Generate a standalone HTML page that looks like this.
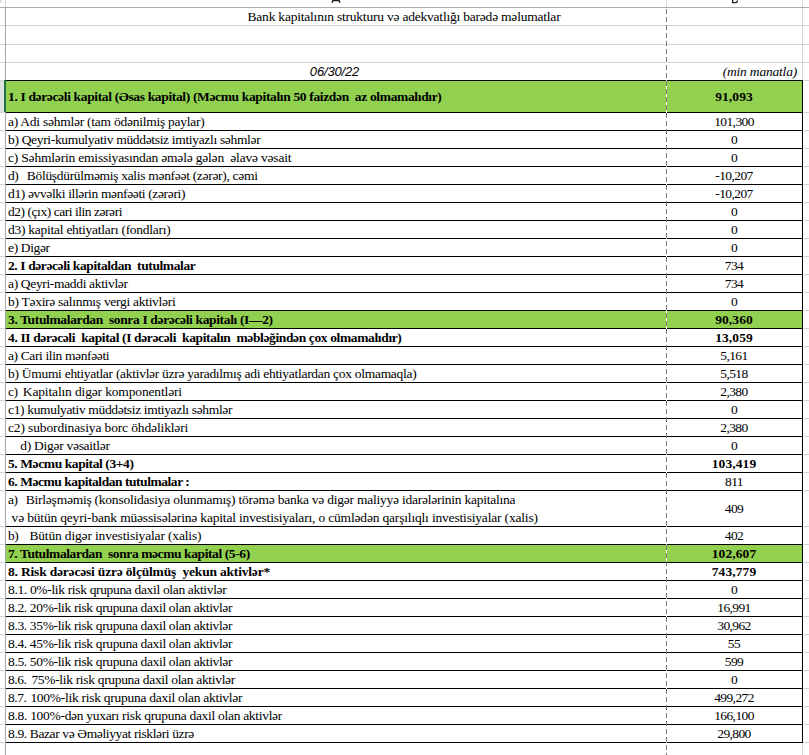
<!DOCTYPE html>
<html><head><meta charset="utf-8">
<style>
html,body{margin:0;padding:0;background:#fff;}
body{width:809px;height:755px;overflow:hidden;position:relative;font-family:"Liberation Serif",serif;font-size:13.5px;color:#000;}
.a{position:absolute;}
.t{position:absolute;white-space:pre;line-height:15px;height:15px;}
.hl{position:absolute;height:1px;}
.vl{position:absolute;width:1px;}
.g{background:#92d050;}
.bk{background:#000;}
.gr{background:#d4d4d4;}
.c{text-align:center;}
.ns{font-family:"Liberation Sans",sans-serif;}
</style></head><body>

<div class="hl" style="left:0;top:7px;width:809px;background:#ababab"></div>
<div class="hl gr" style="left:0;top:25px;width:809px"></div>
<div class="hl gr" style="left:0;top:44px;width:809px"></div>
<div class="hl gr" style="left:0;top:62px;width:809px"></div>
<div class="hl gr" style="left:0;top:80px;width:809px"></div>
<div class="vl" style="left:5px;top:0;height:7px;background:#dadada"></div>
<div class="vl" style="left:5px;top:8px;height:747px;background:#a6a6a6"></div>
<div class="vl" style="left:666px;top:0;height:7px;background:#dadada"></div>
<div class="vl" style="left:802px;top:0;height:7px;background:#dadada"></div>
<div class="vl gr" style="left:802px;top:8px;height:747px"></div>
<div class="a" style="left:0;top:0;width:2px;height:3px;background:#e6e6e6"></div>
<svg class="a" style="left:326px;top:0" width="20" height="7"><path d="M6.8 0 L6.2 2.8 M13.2 0 L13.8 2.8 M6.6 0.5 H13.4" stroke="#1e1e1e" stroke-width="1.3" fill="none"/></svg>
<svg class="a" style="left:725px;top:0" width="20" height="7"><path d="M7.6 0 V2.6 H10.6 Q12.4 2.6 12.4 0.6" stroke="#1e1e1e" stroke-width="1.3" fill="none"/></svg>
<div class="t c" id="title" style="left:6px;width:796px;top:9px;letter-spacing:-0.212px">Bank kapitalının strukturu və adekvatlığı barədə məlumatlar</div>
<div class="t c ns" style="left:4.5px;width:660px;top:64px;font-style:italic;font-size:13px;letter-spacing:-0.15px">06/30/22</div>
<div class="t" style="left:6px;width:791px;text-align:right;top:64px;font-style:italic;letter-spacing:-0.2px">(min manatla)</div>
<div class="a g" style="left:6px;top:80px;width:796px;height:32px"></div>
<div class="hl gr" style="left:803px;top:112px;width:6px"></div>
<div class="t" id="r80" style="left:8.00px;top:89px;letter-spacing:-0.350px;font-weight:bold;">1. I dərəcəli kapital (Əsas kapital) (Məcmu kapitalın 50 faizdən  az olmamalıdır)</div>
<div class="t c" style="left:666.5px;width:135px;top:89px;font-weight:bold;letter-spacing:0.1px;">91,093</div>
<div class="hl gr" style="left:803px;top:130px;width:6px"></div>
<div class="t" id="r112" style="left:8.00px;top:114px;letter-spacing:-0.250px;">a) Adi səhmlər (tam ödənilmiş paylar)</div>
<div class="t c" style="left:666.5px;width:135px;top:114px;letter-spacing:-0.6px;">101,300</div>
<div class="hl gr" style="left:803px;top:148px;width:6px"></div>
<div class="t" id="r130" style="left:8.00px;top:132px;letter-spacing:-0.326px;">b) Qeyri-kumulyativ müddətsiz imtiyazlı səhmlər</div>
<div class="t c" style="left:666.5px;width:135px;top:132px;letter-spacing:-0.6px;">0</div>
<div class="hl gr" style="left:803px;top:166px;width:6px"></div>
<div class="t" id="r148" style="left:8.00px;top:150px;letter-spacing:-0.192px;">c) Səhmlərin emissiyasından əmələ gələn  əlavə vəsait</div>
<div class="t c" style="left:666.5px;width:135px;top:150px;letter-spacing:-0.6px;">0</div>
<div class="hl gr" style="left:803px;top:184px;width:6px"></div>
<div class="t" style="left:8px;top:168px;letter-spacing:-0.45px;">d)</div><div class="t" id="r166" style="left:26.80px;top:168px;letter-spacing:-0.308px;">Bölüşdürülməmiş xalis mənfəət (zərər), cəmi</div>
<div class="t c" style="left:666.5px;width:135px;top:168px;letter-spacing:-0.6px;">-10,207</div>
<div class="hl gr" style="left:803px;top:202px;width:6px"></div>
<div class="t" id="r184" style="left:8.00px;top:186px;letter-spacing:-0.361px;">d1) əvvəlki illərin mənfəəti (zərəri)</div>
<div class="t c" style="left:666.5px;width:135px;top:186px;letter-spacing:-0.6px;">-10,207</div>
<div class="hl gr" style="left:803px;top:220px;width:6px"></div>
<div class="t" id="r202" style="left:8.00px;top:204px;letter-spacing:-0.460px;">d2) (çıx) cari ilin zərəri</div>
<div class="t c" style="left:666.5px;width:135px;top:204px;letter-spacing:-0.6px;">0</div>
<div class="hl gr" style="left:803px;top:238px;width:6px"></div>
<div class="t" id="r220" style="left:8.00px;top:222px;letter-spacing:-0.258px;">d3) kapital ehtiyatları (fondları)</div>
<div class="t c" style="left:666.5px;width:135px;top:222px;letter-spacing:-0.6px;">0</div>
<div class="hl gr" style="left:803px;top:256px;width:6px"></div>
<div class="t" id="r238" style="left:8.00px;top:240px;letter-spacing:-0.357px;">e) Digər</div>
<div class="t c" style="left:666.5px;width:135px;top:240px;letter-spacing:-0.6px;">0</div>
<div class="hl gr" style="left:803px;top:274px;width:6px"></div>
<div class="t" id="r256" style="left:8.00px;top:258px;letter-spacing:-0.400px;font-weight:bold;">2. I dərəcəli kapitaldan  tutulmalar</div>
<div class="t c" style="left:666.5px;width:135px;top:258px;letter-spacing:-0.6px;">734</div>
<div class="hl gr" style="left:803px;top:292px;width:6px"></div>
<div class="t" id="r274" style="left:8.00px;top:276px;letter-spacing:-0.341px;">a) Qeyri-maddi aktivlər</div>
<div class="t c" style="left:666.5px;width:135px;top:276px;letter-spacing:-0.6px;">734</div>
<div class="hl gr" style="left:803px;top:310px;width:6px"></div>
<div class="t" id="r292" style="left:8.00px;top:294px;letter-spacing:-0.288px;">b) Təxirə salınmış vergi aktivləri</div>
<div class="t c" style="left:666.5px;width:135px;top:294px;letter-spacing:-0.6px;">0</div>
<div class="a g" style="left:6px;top:310px;width:796px;height:18px"></div>
<div class="hl gr" style="left:803px;top:328px;width:6px"></div>
<div class="t" id="r310" style="left:8.00px;top:312px;letter-spacing:-0.354px;font-weight:bold;">3. Tutulmalardan  sonra I dərəcəli kapitalı (I—2)</div>
<div class="t c" style="left:666.5px;width:135px;top:312px;font-weight:bold;letter-spacing:0.1px;">90,360</div>
<div class="hl gr" style="left:803px;top:346px;width:6px"></div>
<div class="t" id="r328" style="left:8.00px;top:330px;letter-spacing:-0.373px;font-weight:bold;">4. II dərəcəli  kapital (I dərəcəli  kapitalın  məbləğindən çox olmamalıdır)</div>
<div class="t c" style="left:666.5px;width:135px;top:330px;font-weight:bold;letter-spacing:0.1px;">13,059</div>
<div class="hl gr" style="left:803px;top:364px;width:6px"></div>
<div class="t" id="r346" style="left:8.00px;top:348px;letter-spacing:-0.375px;">a) Cari ilin mənfəəti</div>
<div class="t c" style="left:666.5px;width:135px;top:348px;letter-spacing:-0.6px;">5,161</div>
<div class="hl gr" style="left:803px;top:382px;width:6px"></div>
<div class="t" id="r364" style="left:8.00px;top:366px;letter-spacing:-0.286px;">b) Ümumi ehtiyatlar (aktivlər üzrə yaradılmış adi ehtiyatlardan çox olmamaqla)</div>
<div class="t c" style="left:666.5px;width:135px;top:366px;letter-spacing:-0.6px;">5,518</div>
<div class="hl gr" style="left:803px;top:400px;width:6px"></div>
<div class="t" style="left:8px;top:384px;letter-spacing:-0.45px;">c)</div><div class="t" id="r382" style="left:22.80px;top:384px;letter-spacing:-0.148px;">Kapitalın digər komponentləri</div>
<div class="t c" style="left:666.5px;width:135px;top:384px;letter-spacing:-0.6px;">2,380</div>
<div class="hl gr" style="left:803px;top:418px;width:6px"></div>
<div class="t" id="r400" style="left:8.00px;top:402px;letter-spacing:-0.341px;">c1) kumulyativ müddətsiz imtiyazlı səhmlər</div>
<div class="t c" style="left:666.5px;width:135px;top:402px;letter-spacing:-0.6px;">0</div>
<div class="hl gr" style="left:803px;top:436px;width:6px"></div>
<div class="t" id="r418" style="left:8.00px;top:420px;letter-spacing:-0.136px;">c2) subordinasiya borc öhdəlikləri</div>
<div class="t c" style="left:666.5px;width:135px;top:420px;letter-spacing:-0.6px;">2,380</div>
<div class="hl gr" style="left:803px;top:454px;width:6px"></div>
<div class="t" id="r436" style="left:20.20px;top:438px;letter-spacing:-0.275px;">d) Digər vəsaitlər</div>
<div class="t c" style="left:666.5px;width:135px;top:438px;letter-spacing:-0.6px;">0</div>
<div class="hl gr" style="left:803px;top:472px;width:6px"></div>
<div class="t" id="r454" style="left:8.00px;top:456px;letter-spacing:-0.405px;font-weight:bold;">5. Məcmu kapital (3+4)</div>
<div class="t c" style="left:666.5px;width:135px;top:456px;font-weight:bold;letter-spacing:0.1px;">103,419</div>
<div class="hl gr" style="left:803px;top:490px;width:6px"></div>
<div class="t" id="r472" style="left:8.00px;top:474px;letter-spacing:-0.452px;font-weight:bold;">6. Məcmu kapitaldan tutulmalar :</div>
<div class="t c" style="left:666.5px;width:135px;top:474px;letter-spacing:-0.6px;">811</div>
<div class="hl gr" style="left:803px;top:526px;width:6px"></div>
<div class="t" style="left:8px;top:492px;letter-spacing:-0.45px;">a)</div><div class="t" id="r490a" style="left:25.80px;top:492px;letter-spacing:-0.236px;">Birləşməmiş (konsolidasiya olunmamış) törəmə banka və digər maliyyə idarələrinin kapitalına</div>
<div class="t" id="r490b" style="left:11.60px;top:510px;letter-spacing:-0.178px;">və bütün qeyri-bank müəssisələrinə kapital investisiyaları, o cümlədən qarşılıqlı investisiyalar (xalis)</div>
<div class="t c" style="left:666.5px;width:135px;top:501px;letter-spacing:-0.6px;">409</div>
<div class="hl gr" style="left:803px;top:544px;width:6px"></div>
<div class="t" style="left:8px;top:528px;letter-spacing:-0.45px;">b)</div><div class="t" id="r526" style="left:29.40px;top:528px;letter-spacing:-0.158px;">Bütün digər investisiyalar (xalis)</div>
<div class="t c" style="left:666.5px;width:135px;top:528px;letter-spacing:-0.6px;">402</div>
<div class="a g" style="left:6px;top:544px;width:796px;height:18px"></div>
<div class="hl gr" style="left:803px;top:562px;width:6px"></div>
<div class="t" id="r544" style="left:8.00px;top:546px;letter-spacing:-0.405px;font-weight:bold;">7. Tutulmalardan  sonra məcmu kapital (5-6)</div>
<div class="t c" style="left:666.5px;width:135px;top:546px;font-weight:bold;letter-spacing:0.1px;">102,607</div>
<div class="hl gr" style="left:803px;top:580px;width:6px"></div>
<div class="t" id="r562" style="left:8.00px;top:564px;letter-spacing:-0.185px;font-weight:bold;">8. Risk dərəcəsi üzrə ölçülmüş  yekun aktivlər*</div>
<div class="t c" style="left:666.5px;width:135px;top:564px;font-weight:bold;letter-spacing:0.1px;">743,779</div>
<div class="hl gr" style="left:803px;top:598px;width:6px"></div>
<div class="t" id="r580" style="left:8.00px;top:582px;letter-spacing:-0.337px;">8.1. 0%-lik risk qrupuna daxil olan aktivlər</div>
<div class="t c" style="left:666.5px;width:135px;top:582px;letter-spacing:-0.6px;">0</div>
<div class="hl gr" style="left:803px;top:616px;width:6px"></div>
<div class="t" id="r598" style="left:8.00px;top:600px;letter-spacing:-0.352px;">8.2. 20%-lik risk qrupuna daxil olan aktivlər</div>
<div class="t c" style="left:666.5px;width:135px;top:600px;letter-spacing:-0.6px;">16,991</div>
<div class="hl gr" style="left:803px;top:634px;width:6px"></div>
<div class="t" id="r616" style="left:8.00px;top:618px;letter-spacing:-0.352px;">8.3. 35%-lik risk qrupuna daxil olan aktivlər</div>
<div class="t c" style="left:666.5px;width:135px;top:618px;letter-spacing:-0.6px;">30,962</div>
<div class="hl gr" style="left:803px;top:652px;width:6px"></div>
<div class="t" id="r634" style="left:8.00px;top:636px;letter-spacing:-0.352px;">8.4. 45%-lik risk qrupuna daxil olan aktivlər</div>
<div class="t c" style="left:666.5px;width:135px;top:636px;letter-spacing:-0.6px;">55</div>
<div class="hl gr" style="left:803px;top:670px;width:6px"></div>
<div class="t" id="r652" style="left:8.00px;top:654px;letter-spacing:-0.352px;">8.5. 50%-lik risk qrupuna daxil olan aktivlər</div>
<div class="t c" style="left:666.5px;width:135px;top:654px;letter-spacing:-0.6px;">599</div>
<div class="hl gr" style="left:803px;top:688px;width:6px"></div>
<div class="t" style="left:8px;top:672px;letter-spacing:-0.45px;">8.6.</div><div class="t" id="r670" style="left:31.40px;top:672px;letter-spacing:-0.320px;">75%-lik risk qrupuna daxil olan aktivlər</div>
<div class="t c" style="left:666.5px;width:135px;top:672px;letter-spacing:-0.6px;">0</div>
<div class="hl gr" style="left:803px;top:706px;width:6px"></div>
<div class="t" style="left:8px;top:690px;letter-spacing:-0.45px;">8.7.</div><div class="t" id="r688" style="left:30.40px;top:690px;letter-spacing:-0.273px;">100%-lik risk qrupuna daxil olan aktivlər</div>
<div class="t c" style="left:666.5px;width:135px;top:690px;letter-spacing:-0.6px;">499,272</div>
<div class="hl gr" style="left:803px;top:724px;width:6px"></div>
<div class="t" id="r706" style="left:8.00px;top:708px;letter-spacing:-0.298px;">8.8. 100%-dən yuxarı risk qrupuna daxil olan aktivlər</div>
<div class="t c" style="left:666.5px;width:135px;top:708px;letter-spacing:-0.6px;">166,100</div>
<div class="hl gr" style="left:803px;top:742px;width:6px"></div>
<div class="t" id="r724" style="left:8.00px;top:726px;letter-spacing:-0.375px;">8.9. Bazar və Əməliyyat riskləri üzrə</div>
<div class="t c" style="left:666.5px;width:135px;top:726px;letter-spacing:-0.6px;">29,800</div>
<div class="hl bk" style="left:6px;top:80px;width:797px"></div>
<div class="hl gr" style="left:0;top:80px;width:5px"></div>
<div class="hl bk" style="left:6px;top:112px;width:797px"></div>
<div class="hl gr" style="left:0;top:112px;width:5px"></div>
<div class="hl bk" style="left:6px;top:130px;width:797px"></div>
<div class="hl gr" style="left:0;top:130px;width:5px"></div>
<div class="hl bk" style="left:6px;top:148px;width:797px"></div>
<div class="hl gr" style="left:0;top:148px;width:5px"></div>
<div class="hl bk" style="left:6px;top:166px;width:797px"></div>
<div class="hl gr" style="left:0;top:166px;width:5px"></div>
<div class="hl bk" style="left:6px;top:184px;width:797px"></div>
<div class="hl gr" style="left:0;top:184px;width:5px"></div>
<div class="hl bk" style="left:6px;top:202px;width:797px"></div>
<div class="hl gr" style="left:0;top:202px;width:5px"></div>
<div class="hl bk" style="left:6px;top:220px;width:797px"></div>
<div class="hl gr" style="left:0;top:220px;width:5px"></div>
<div class="hl bk" style="left:6px;top:238px;width:797px"></div>
<div class="hl gr" style="left:0;top:238px;width:5px"></div>
<div class="hl bk" style="left:6px;top:256px;width:797px"></div>
<div class="hl gr" style="left:0;top:256px;width:5px"></div>
<div class="hl bk" style="left:6px;top:274px;width:797px"></div>
<div class="hl gr" style="left:0;top:274px;width:5px"></div>
<div class="hl bk" style="left:6px;top:292px;width:797px"></div>
<div class="hl gr" style="left:0;top:292px;width:5px"></div>
<div class="hl bk" style="left:6px;top:310px;width:797px"></div>
<div class="hl gr" style="left:0;top:310px;width:5px"></div>
<div class="hl bk" style="left:6px;top:328px;width:797px"></div>
<div class="hl gr" style="left:0;top:328px;width:5px"></div>
<div class="hl bk" style="left:6px;top:346px;width:797px"></div>
<div class="hl gr" style="left:0;top:346px;width:5px"></div>
<div class="hl bk" style="left:6px;top:364px;width:797px"></div>
<div class="hl gr" style="left:0;top:364px;width:5px"></div>
<div class="hl bk" style="left:6px;top:382px;width:797px"></div>
<div class="hl gr" style="left:0;top:382px;width:5px"></div>
<div class="hl bk" style="left:6px;top:400px;width:797px"></div>
<div class="hl gr" style="left:0;top:400px;width:5px"></div>
<div class="hl bk" style="left:6px;top:418px;width:797px"></div>
<div class="hl gr" style="left:0;top:418px;width:5px"></div>
<div class="hl bk" style="left:6px;top:436px;width:797px"></div>
<div class="hl gr" style="left:0;top:436px;width:5px"></div>
<div class="hl bk" style="left:6px;top:454px;width:797px"></div>
<div class="hl gr" style="left:0;top:454px;width:5px"></div>
<div class="hl bk" style="left:6px;top:472px;width:797px"></div>
<div class="hl gr" style="left:0;top:472px;width:5px"></div>
<div class="hl bk" style="left:6px;top:490px;width:797px"></div>
<div class="hl gr" style="left:0;top:490px;width:5px"></div>
<div class="hl bk" style="left:6px;top:526px;width:797px"></div>
<div class="hl gr" style="left:0;top:526px;width:5px"></div>
<div class="hl bk" style="left:6px;top:544px;width:797px"></div>
<div class="hl gr" style="left:0;top:544px;width:5px"></div>
<div class="hl bk" style="left:6px;top:562px;width:797px"></div>
<div class="hl gr" style="left:0;top:562px;width:5px"></div>
<div class="hl bk" style="left:6px;top:580px;width:797px"></div>
<div class="hl gr" style="left:0;top:580px;width:5px"></div>
<div class="hl bk" style="left:6px;top:598px;width:797px"></div>
<div class="hl gr" style="left:0;top:598px;width:5px"></div>
<div class="hl bk" style="left:6px;top:616px;width:797px"></div>
<div class="hl gr" style="left:0;top:616px;width:5px"></div>
<div class="hl bk" style="left:6px;top:634px;width:797px"></div>
<div class="hl gr" style="left:0;top:634px;width:5px"></div>
<div class="hl bk" style="left:6px;top:652px;width:797px"></div>
<div class="hl gr" style="left:0;top:652px;width:5px"></div>
<div class="hl bk" style="left:6px;top:670px;width:797px"></div>
<div class="hl gr" style="left:0;top:670px;width:5px"></div>
<div class="hl bk" style="left:6px;top:688px;width:797px"></div>
<div class="hl gr" style="left:0;top:688px;width:5px"></div>
<div class="hl bk" style="left:6px;top:706px;width:797px"></div>
<div class="hl gr" style="left:0;top:706px;width:5px"></div>
<div class="hl bk" style="left:6px;top:724px;width:797px"></div>
<div class="hl gr" style="left:0;top:724px;width:5px"></div>
<div class="hl bk" style="left:6px;top:742px;width:797px"></div>
<div class="hl gr" style="left:0;top:742px;width:5px"></div>
<div class="vl bk" style="left:802px;top:80px;height:663px"></div>
<div class="vl" style="left:666px;top:8px;height:747px;background:#fff"></div>
<svg class="a" style="left:666px;top:9px" width="1" height="746"><line x1="0.5" y1="0" x2="0.5" y2="746" stroke="#7a7a7a" stroke-width="1" stroke-dasharray="5 3"/></svg>
<div class="a" style="left:0;top:81px;width:4px;height:31px;background:#e1e1e1"></div>
<div class="a" style="left:4px;top:80px;width:2px;height:32px;background:#217346"></div>
</body></html>
